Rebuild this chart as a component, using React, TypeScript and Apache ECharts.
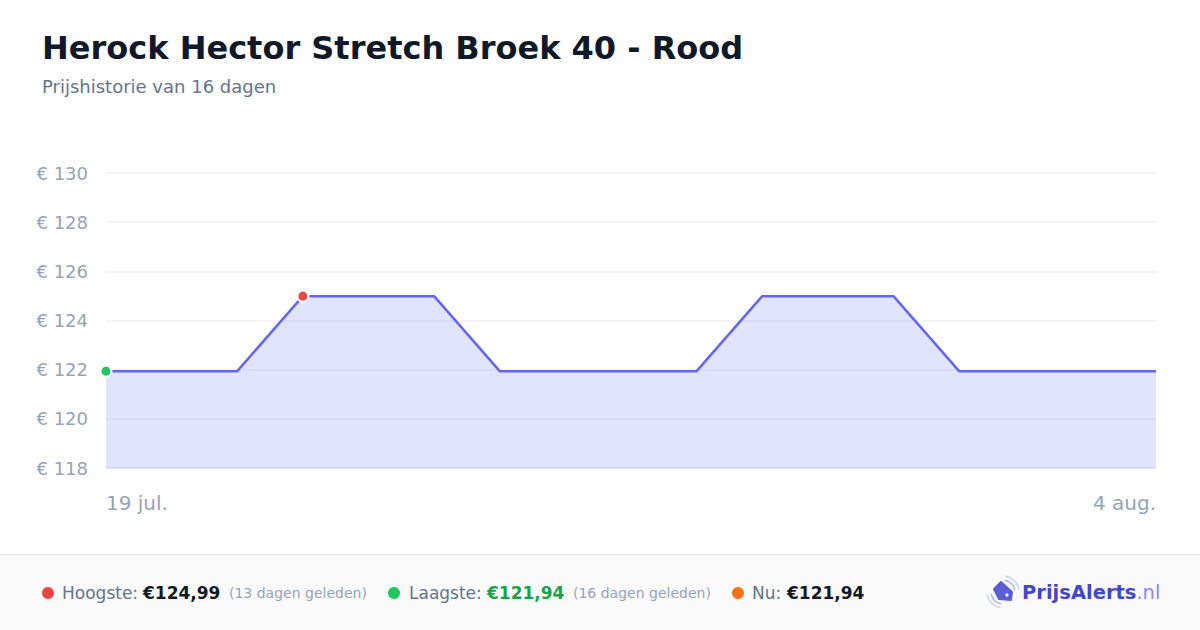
import React, { useEffect, useRef } from "react";
import * as echarts from "echarts";

const TITLE = "Herock Hector Stretch Broek 40 - Rood";
const SUBTITLE = "Prijshistorie van 16 dagen";
const dates = [
  "19 jul.", "20 jul.", "21 jul.", "22 jul.", "23 jul.", "24 jul.", "25 jul.", "26 jul.",
  "27 jul.", "28 jul.", "29 jul.", "30 jul.", "31 jul.", "1 aug.", "2 aug.", "3 aug.", "4 aug.",
];
const prices = [
  121.94, 121.94, 121.94, 124.99, 124.99, 124.99, 121.94, 121.94, 121.94,
  121.94, 124.99, 124.99, 124.99, 121.94, 121.94, 121.94, 121.94,
];
const yMin = 118;
const yMax = 130;
const yStep = 2;

const FONT = "DejaVu Sans";

function fmt(v: number) {
  return "€" + v.toFixed(2).replace(".", ",");
}

export default function App() {
  const ref = useRef<HTMLDivElement>(null);
  useEffect(() => {
    if (!ref.current) return;
    const chart = echarts.init(ref.current, undefined, { renderer: "svg" });
    const n = prices.length;
    const maxV = Math.max(...prices);
    const minV = Math.min(...prices);
    const maxI = prices.indexOf(maxV);
    const minI = prices.indexOf(minV);
    const nowV = prices[n - 1];
    const lastIdx = n - 1;

    const footY = 593;
    chart.setOption({
      animation: false,
      backgroundColor: "#ffffff",
      textStyle: { fontFamily: FONT },
      grid: { left: 106, right: 44, top: 173, bottom: 162, containLabel: false },
      xAxis: {
        type: "category",
        data: dates,
        boundaryGap: false,
        axisLine: { show: true, lineStyle: { color: "#e2e4ea", width: 1.5 } },
        axisTick: { show: false },
        axisLabel: {
          interval: 0,
          margin: 25,
          fontSize: 20,
          color: "#94a3b8",
          fontFamily: FONT,
          alignMinLabel: "left",
          alignMaxLabel: "right",
          formatter: (v: string, i: number) => (i === 0 || i === lastIdx ? v : ""),
        },
        splitLine: { show: false },
      },
      yAxis: {
        type: "value",
        min: yMin,
        max: yMax,
        interval: yStep,
        axisLine: { show: false },
        axisTick: { show: false },
        axisLabel: {
          margin: 18,
          fontSize: 18,
          color: "#94a3b8",
          fontFamily: FONT,
          formatter: (v: number) => "€ " + v,
        },
        splitLine: { lineStyle: { color: "#f0f1f4", width: 1.5 } },
      },
      series: [
        {
          type: "line",
          data: prices,
          showSymbol: false,
          symbol: "none",
          lineStyle: { color: "#6366f1", width: 2.5 },
          areaStyle: { color: "rgba(100,120,250,0.2)", opacity: 1 },
          z: 2,
        },
        {
          type: "scatter",
          clip: false,
          symbolSize: 11,
          data: [
            { value: [minI, minV], itemStyle: { color: "#22c55e" } },
            { value: [maxI, maxV], itemStyle: { color: "#ef4444" } },
          ],
          itemStyle: { borderColor: "#ffffff", borderWidth: 2, opacity: 1 },
          z: 5,
        },
      ],
      graphic: [
        {
          type: "text",
          left: 42,
          top: 32,
          style: { text: TITLE, fontSize: 32, fontWeight: "bold", fill: "#111827", fontFamily: FONT },
        },
        {
          type: "text",
          left: 42,
          top: 77,
          style: { text: SUBTITLE, fontSize: 18, fill: "#64748b", fontFamily: FONT },
        },
        {
          type: "rect",
          shape: { x: 0, y: 554, width: 1200, height: 76 },
          style: { fill: "#fafafa" },
          z: -1,
        },
        {
          type: "line",
          shape: { x1: 0, y1: 554.5, x2: 1200, y2: 554.5 },
          style: { stroke: "#eeeeee", lineWidth: 1 },
        },
        { type: "circle", shape: { cx: 48, cy: footY, r: 6 }, style: { fill: "#ef4444" } },
        { type: "circle", shape: { cx: 394, cy: footY, r: 6 }, style: { fill: "#22c55e" } },
        { type: "circle", shape: { cx: 738, cy: footY, r: 6 }, style: { fill: "#f97316" } },
        {
          type: "text", x: 62, y: footY,
          style: { text: "Hoogste:", fontSize: 17, fill: "#64748b", fontFamily: FONT, textVerticalAlign: "middle" },
        },
        {
          type: "text", x: 143, y: footY,
          style: { text: fmt(maxV), fontSize: 17, fontWeight: "bold", fill: "#111827", fontFamily: FONT, textVerticalAlign: "middle" },
        },
        {
          type: "text", x: 229, y: footY,
          style: { text: `(${lastIdx - maxI} dagen geleden)`, fontSize: 14, fill: "#94a3b8", fontFamily: FONT, textVerticalAlign: "middle" },
        },
        {
          type: "text", x: 409, y: footY,
          style: { text: "Laagste:", fontSize: 17, fill: "#64748b", fontFamily: FONT, textVerticalAlign: "middle" },
        },
        {
          type: "text", x: 487, y: footY,
          style: { text: fmt(minV), fontSize: 17, fontWeight: "bold", fill: "#16a34a", fontFamily: FONT, textVerticalAlign: "middle" },
        },
        {
          type: "text", x: 573, y: footY,
          style: { text: `(${lastIdx - minI} dagen geleden)`, fontSize: 14, fill: "#94a3b8", fontFamily: FONT, textVerticalAlign: "middle" },
        },
        {
          type: "text", x: 752, y: footY,
          style: { text: "Nu:", fontSize: 17, fill: "#64748b", fontFamily: FONT, textVerticalAlign: "middle" },
        },
        {
          type: "text", x: 787, y: footY,
          style: { text: fmt(nowV), fontSize: 17, fontWeight: "bold", fill: "#111827", fontFamily: FONT, textVerticalAlign: "middle" },
        },
        // logo
        {
          type: "polygon",
          shape: { points: [[994, 589], [1001, 582], [1012, 592], [1011, 600], [999, 599]] },
          style: { fill: "#5b5fd6", stroke: "#5b5fd6", lineWidth: 2, lineJoin: "round" },
        },
        { type: "circle", shape: { cx: 1007, cy: 595, r: 1.6 }, style: { fill: "#ffffff" } },
        {
          type: "arc",
          shape: { cx: 1003, cy: 592, r: 12, startAngle: -Math.PI * 0.45, endAngle: -Math.PI * 0.05, clockwise: true },
          style: { stroke: "#a5b4fc", lineWidth: 1.5, fill: "none" },
        },
        {
          type: "arc",
          shape: { cx: 1003, cy: 592, r: 16, startAngle: -Math.PI * 0.45, endAngle: -Math.PI * 0.05, clockwise: true },
          style: { stroke: "#c7d2fe", lineWidth: 1.5, fill: "none" },
        },
        {
          type: "arc",
          shape: { cx: 1003, cy: 592, r: 12, startAngle: Math.PI * 0.55, endAngle: Math.PI * 0.95, clockwise: true },
          style: { stroke: "#a5b4fc", lineWidth: 1.5, fill: "none" },
        },
        {
          type: "arc",
          shape: { cx: 1003, cy: 592, r: 16, startAngle: Math.PI * 0.55, endAngle: Math.PI * 0.95, clockwise: true },
          style: { stroke: "#c7d2fe", lineWidth: 1.5, fill: "none" },
        },
        {
          type: "text", x: 1022, y: 592,
          style: {
            text: "{a|PrijsAlerts}{b|.nl}",
            textVerticalAlign: "middle",
            rich: {
              a: { fontSize: 19.5, fontWeight: "bold", fill: "#4347c4", color: "#4347c4", fontFamily: FONT },
              b: { fontSize: 19.5, fill: "#818cf8", color: "#818cf8", fontFamily: FONT },
            },
          },
        },
      ],
    });
    return () => chart.dispose();
  }, []);
  return (
    <div
      ref={ref}
      style={{ position: "absolute", left: 0, top: 0, width: 1200, height: 630, background: "#fff" }}
    />
  );
}
